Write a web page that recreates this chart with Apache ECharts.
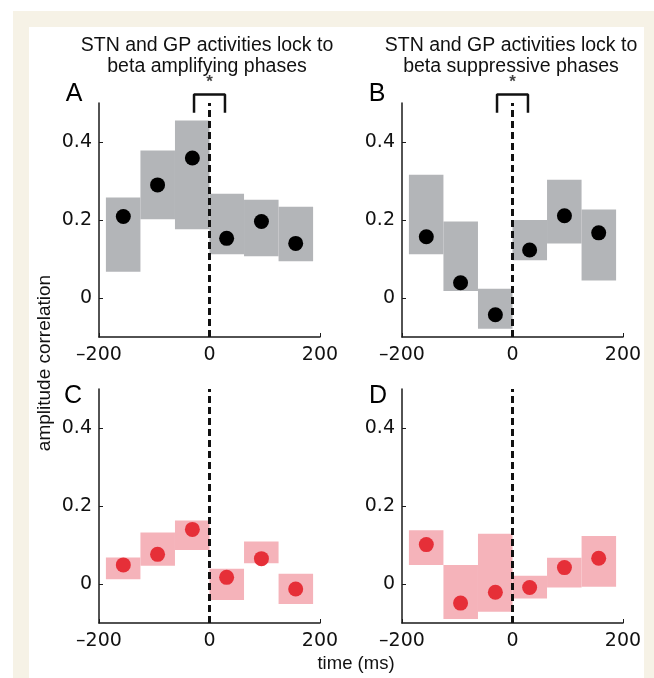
<!DOCTYPE html>
<html>
<head>
<meta charset="utf-8">
<script src="https://cdn.jsdelivr.net/npm/echarts@6/dist/echarts.min.js"></script>
<style>
html,body{margin:0;padding:0;background:#fff;}
#chart{width:654px;height:678px;}
</style>
</head>
<body>
<div id="chart"></div>
<script>
// bins (ms)
var binLeft  = [-187.5, -125, -62.5, 0, 62.5, 125];
var binRight = [-125, -62.5, 0, 62.5, 125, 187.5];
var binMid   = [-156, -94, -31, 31, 94, 156];

// A: STN/GP lock to amplifying phases
var aMean = [0.209, 0.290, 0.359, 0.153, 0.196, 0.140];
var aLow  = [0.067, 0.202, 0.176, 0.112, 0.107, 0.094];
var aHigh = [0.258, 0.378, 0.455, 0.267, 0.252, 0.234];
// B: suppressive phases
var bMean = [0.157, 0.039, -0.043, 0.123, 0.211, 0.167];
var bLow  = [0.112, 0.018, -0.079, 0.097, 0.140, 0.045];
var bHigh = [0.316, 0.196, 0.024, 0.200, 0.303, 0.227];
// C
var cMean = [0.049, 0.076, 0.140, 0.017, 0.065, -0.013];
var cLow  = [0.012, 0.047, 0.087, -0.041, 0.053, -0.051];
var cHigh = [0.068, 0.132, 0.163, 0.039, 0.109, 0.026];
// D
var dMean = [0.101, -0.049, -0.021, -0.009, 0.042, 0.066];
var dLow  = [0.049, -0.090, -0.071, -0.037, -0.009, -0.007];
var dHigh = [0.138, 0.049, 0.129, 0.021, 0.067, 0.123];

var xTicks = [-200, 0, 200];
var yTicks = [0, 0.2, 0.4];
// significance bracket (top row)
var sigX = [-28, 28];
var sigY = [0.475, 0.522];
var starY = 0.552;

var tickFont = 'DejaVu Sans';
var textFont = 'Liberation Sans';

var panels = [
	{mean:aMean, low:aLow, high:aHigh, box:'#b3b5b8', dot:'#000000', left:99,  top:103, sig:true},
	{mean:bMean, low:bLow, high:bHigh, box:'#b3b5b8', dot:'#000000', left:402, top:103, sig:true},
	{mean:cMean, low:cLow, high:cHigh, box:'#f5b3ba', dot:'#e62f38', left:99,  top:389, sig:false},
	{mean:dMean, low:dLow, high:dHigh, box:'#f5b3ba', dot:'#e62f38', left:402, top:389, sig:false}
];

var grid=[], xAxis=[], yAxis=[], series=[];

panels.forEach(function(p, i){
	grid.push({left:p.left, top:p.top, width:221, height:234, outerBoundsMode:'none'});
	xAxis.push({
		type:'value', gridIndex:i, min:-200, max:200,
		axisLine:{show:true, onZero:false, lineStyle:{color:'#1a1a1a', width:1.5}},
		axisTick:{show:true, inside:true, length:4, customValues:xTicks, lineStyle:{color:'#1a1a1a'}},
		axisLabel:{customValues:xTicks, margin:9, color:'#111', fontSize:19, fontFamily:tickFont,
			formatter:function(v){ return String(v).replace('-', '\u2013'); }},
		splitLine:{show:false}
	});
	yAxis.push({
		type:'value', gridIndex:i, min:-0.1, max:0.5,
		axisLine:{show:true, onZero:false, lineStyle:{color:'#1a1a1a', width:1.5}},
		axisTick:{show:true, inside:true, length:4, customValues:yTicks, lineStyle:{color:'#1a1a1a'}},
		axisLabel:{customValues:yTicks, margin:7, color:'#111', fontSize:19, fontFamily:tickFont},
		splitLine:{show:false}
	});

	var boxes=[], dots=[];
	for(var k=0;k<p.mean.length;k++){
		boxes.push([binLeft[k], binRight[k], p.low[k], p.high[k]]);
		dots.push([binMid[k], p.mean[k]]);
	}
	var fill=p.box;
	series.push({
		type:'custom', xAxisIndex:i, yAxisIndex:i, z:1,
		data:boxes,
		encode:{x:[0,1], y:[2,3]},
		renderItem:function(params, api){
			var p0=api.coord([api.value(0), api.value(3)]);
			var p1=api.coord([api.value(1), api.value(2)]);
			return {type:'rect', shape:{x:p0[0], y:p0[1], width:p1[0]-p0[0], height:p1[1]-p0[1]}, style:{fill:fill}};
		}
	});
	series.push({
		type:'scatter', xAxisIndex:i, yAxisIndex:i, z:3,
		data:dots, symbolSize:15,
		itemStyle:{color:p.dot, opacity:1},
		markLine:{
			silent:true, symbol:'none', z:4,
			label:{show:false},
			lineStyle:{color:'#111', width:3, type:[7,4]},
			data:[{xAxis:0}]
		}
	});
	if(p.sig){
		series.push({
			type:'line', xAxisIndex:i, yAxisIndex:i, clip:false, z:5,
			symbol:'none', lineStyle:{color:'#111', width:2.5},
			data:[[sigX[0], sigY[0]], [sigX[0], sigY[1]], [sigX[1], sigY[1]], [sigX[1], sigY[0]]]
		});
		series.push({
			type:'scatter', xAxisIndex:i, yAxisIndex:i, clip:false, symbolSize:0,
			data:[[0, starY]],
			label:{show:true, position:'inside', formatter:'*', fontSize:17, fontWeight:'bold', color:'#111', fontFamily:textFont}
		});
	}
});

var graphic=[
	// beige frame
	{type:'rect', shape:{x:13, y:11, width:641, height:667}, style:{fill:'#f6f2e6'}, z:-10},
	{type:'rect', shape:{x:29, y:27, width:615, height:651}, style:{fill:'#ffffff'}, z:-9},
	// column titles
	{type:'text', x:207, y:56, style:{text:'STN and GP activities lock to\nbeta amplifying phases', fill:'#111', font:'19.5px "Liberation Sans"', align:'center', verticalAlign:'middle', lineHeight:21}},
	{type:'text', x:511, y:56, style:{text:'STN and GP activities lock to\nbeta suppressive phases', fill:'#111', font:'19.5px "Liberation Sans"', align:'center', verticalAlign:'middle', lineHeight:21}},
	// panel letters
	{type:'text', x:74, y:94, style:{text:'A', fill:'#000', font:'25px "Liberation Sans"', align:'center', verticalAlign:'middle'}},
	{type:'text', x:377, y:94, style:{text:'B', fill:'#000', font:'25px "Liberation Sans"', align:'center', verticalAlign:'middle'}},
	{type:'text', x:73, y:396, style:{text:'C', fill:'#000', font:'25px "Liberation Sans"', align:'center', verticalAlign:'middle'}},
	{type:'text', x:378, y:396, style:{text:'D', fill:'#000', font:'25px "Liberation Sans"', align:'center', verticalAlign:'middle'}},
	// axis names
	{type:'text', x:45, y:363, rotation:Math.PI/2, style:{text:'amplitude correlation', fill:'#111', font:'19px "Liberation Sans"', align:'center', verticalAlign:'middle'}},
	{type:'text', x:356, y:664, style:{text:'time (ms)', fill:'#111', font:'18.5px "Liberation Sans"', align:'center', verticalAlign:'middle'}}
];

var myChart=echarts.init(document.getElementById('chart'));
myChart.setOption({
	animation:false,
	backgroundColor:'#ffffff',
	graphic:graphic,
	grid:grid,
	xAxis:xAxis,
	yAxis:yAxis,
	series:series
});
</script>
</body>
</html>
